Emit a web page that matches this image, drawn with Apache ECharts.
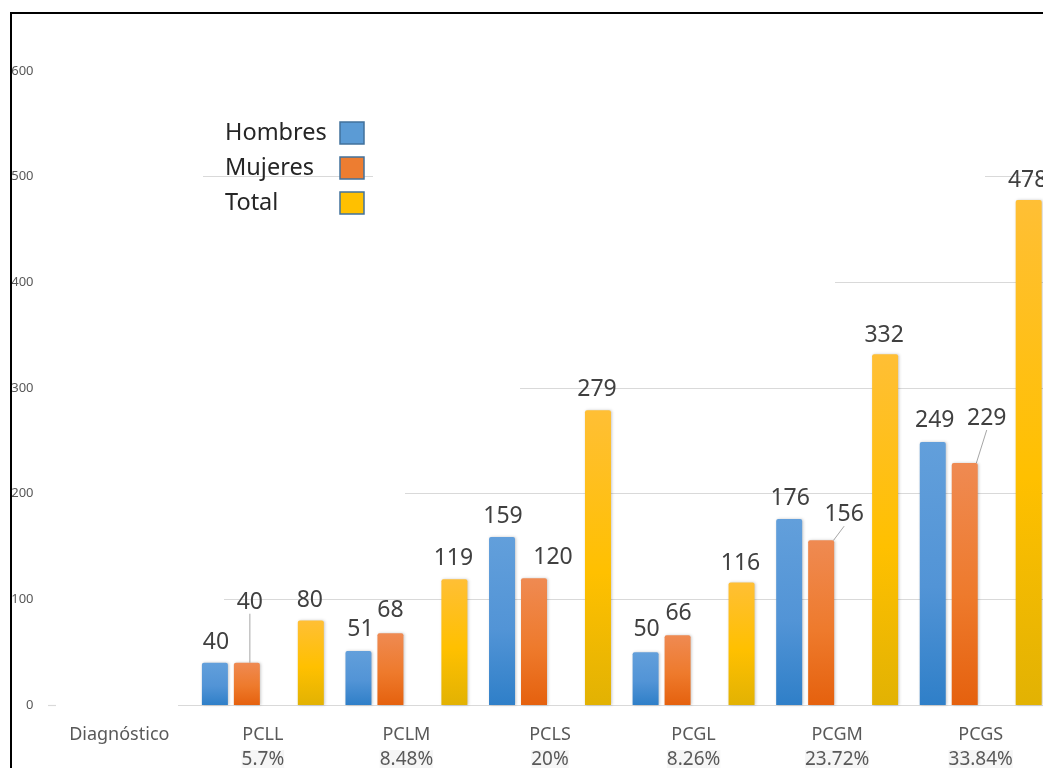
<!DOCTYPE html>
<html>
<head>
<meta charset="utf-8">
<style>html,body{margin:0;padding:0;background:#fff}#chart{width:1043px;height:768px}</style>
<script src="https://cdn.jsdelivr.net/npm/echarts@6/dist/echarts.min.js"></script>
</head>
<body>
<div id="chart"></div>
<script>
// Diagnosis groups and their share of the sample
const categories = ['Diagnóstico', 'PCLL', 'PCLM', 'PCLS', 'PCGL', 'PCGM', 'PCGS'];
const shares = ['', '5.7%', '8.48%', '20%', '8.26%', '23.72%', '33.84%'];

// Patient counts per group; the first group has no bars
const hombres = [null, 40, 51, 159, 50, 176, 249];
const mujeres = [null, 40, 68, 120, 66, 156, 229];
const total = [null, 80, 119, 279, 116, 332, 478];
const spacer = [null, null, null, null, null, null, null];

const yTicks = [0, 100, 200, 300, 400, 500, 600];

// Label nudges [dx, dy] per group, for labels lifted off their bars
const hombresShift = [null, [1, 0], [2, -1], [1, 0], [1, -2], [1, 0], [2, -1]];
const mujeresShift = [null, [3, -40], [0, -2], [19, 0], [1, -1], [23, -5], [22, -24]];
const totalShift = [null, [-1, 0], [-1, 0], [-1, 0], [-1, 2], [-1, 2], [-1, 1]];

// Groups whose label is tied to its bar by a thin leader
const mujeresLeaders = [1, 5, 6];

// Visible stretches of each gridline, in page pixels
const gridRuns = [
  [0, 48, 56], [0, 178, 1043],
  [100, 224, 1043], [200, 405, 1043], [300, 520, 1043],
  [400, 835, 1043], [500, 203, 373], [500, 985, 1043]
];

const fade = (top, mid, bottom) => ({
  type: 'linear', x: 0, y: 0, x2: 0, y2: 1,
  colorStops: [{offset: 0, color: top}, {offset: 0.55, color: mid}, {offset: 1, color: bottom}]
});

const FONT = '"Noto Sans", sans-serif';

function barSeries(name, values, gradient, shifts, leaders) {
  return {
    name, type: 'bar', z: 3, barWidth: 26, barGap: '23%',
    data: values.map((v, i) => ({
      value: v,
      labelLine: {show: leaders.includes(i)}
    })),
    itemStyle: {
      color: gradient, borderRadius: [2, 2, 0, 0],
      shadowColor: 'rgba(0,0,0,0.22)', shadowBlur: 3, shadowOffsetX: 1
    },
    label: {
      show: true, position: 'top', distance: 9,
      color: '#404040', fontFamily: FONT, fontSize: 23
    },
    labelLine: {lineStyle: {color: '#a6a6a6', width: 1}},
    labelLayout: p => {
      const s = shifts[p.dataIndex];
      return s ? {dx: s[0], dy: s[1]} : {};
    }
  };
}

const chart = echarts.init(document.getElementById('chart'), null, {renderer: 'canvas'});
chart.setOption({
  animation: false,
  backgroundColor: '#fff',
  grid: {left: 47.5, top: 71, width: 1005, height: 634, outerBoundsMode: 'none'},
  legend: {
    left: 220, top: 116, orient: 'vertical', align: 'right', icon: 'rect',
    itemWidth: 24, itemHeight: 22, itemGap: 11, itemStyle: {borderWidth: 1.5},
    data: [
      {name: 'Hombres', itemStyle: {color: '#5b9bd5', borderColor: '#41719c', borderWidth: 1.5}},
      {name: 'Mujeres', itemStyle: {color: '#ed7d31', borderColor: '#41719c', borderWidth: 1.5}},
      {name: 'Total', itemStyle: {color: '#ffc000', borderColor: '#41719c', borderWidth: 1.5}}
    ],
    formatter: n => '{t|' + n + '}',
    textStyle: {
      color: '#262626', fontFamily: FONT, fontSize: 23,
      rich: {t: {width: 110, align: 'left', color: '#262626', fontFamily: FONT, fontSize: 23.5}}
    }
  },
  xAxis: {
    type: 'category', data: categories,
    axisLine: {show: false}, axisTick: {show: false},
    axisLabel: {
      margin: 17, color: '#595959', fontFamily: FONT, fontSize: 18, lineHeight: 25,
      interval: 0,
      formatter: (v, i) => shares[i] ? v + '\n{share|' + shares[i] + '}' : v,
      rich: {share: {fontFamily: FONT, fontSize: 19, color: '#595959', backgroundColor: '#f6f6f6', lineHeight: 25}}
    }
  },
  yAxis: {
    type: 'value', min: yTicks[0], max: yTicks[yTicks.length - 1], interval: 100,
    axisLine: {show: false}, axisTick: {show: false}, splitLine: {show: false},
    axisLabel: {margin: 14, color: '#595959', fontFamily: FONT, fontSize: 13}
  },
  series: [
    barSeries('Hombres', hombres, fade('#629fdb', '#5294d6', '#2f7fc8'), hombresShift, []),
    barSeries('Mujeres', mujeres, fade('#ef8a52', '#ee7a2c', '#e5610e'), mujeresShift, mujeresLeaders),
    {
      // Empty slot that opens the gap before the Total bar, and carries the gridlines
      name: 'gap', type: 'bar', z: 1, barWidth: 26, barGap: '23%', data: spacer,
      markLine: {
        silent: true, symbol: 'none', z: 1, label: {show: false},
        lineStyle: {color: '#d9d9d9', width: 1.2, type: 'solid'},
        data: gridRuns.map(r => [{x: r[1], yAxis: r[0]}, {x: r[2], yAxis: r[0]}])
      }
    },
    barSeries('Total', total, fade('#ffbf35', '#ffc000', '#e2b203'), totalShift, [])
  ],
  graphic: [
    {type: 'rect', z: 100, silent: true, shape: {x: 0, y: 0, width: 10, height: 768}, style: {fill: '#fff'}},
    {type: 'rect', z: 101, silent: true, shape: {x: 10, y: 12, width: 2, height: 756}, style: {fill: '#000'}},
    {type: 'rect', z: 101, silent: true, shape: {x: 10, y: 12, width: 1033, height: 2}, style: {fill: '#000'}}
  ]
});
</script>
</body>
</html>
